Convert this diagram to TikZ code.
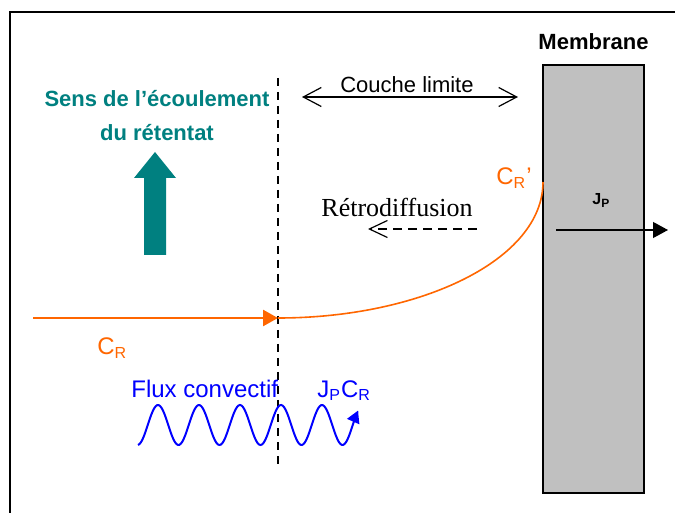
\documentclass[tikz,border=0pt]{standalone}
\usepackage{fontspec}
\setmainfont{Liberation Sans}
\newfontfamily\timesfont{Liberation Serif}
\usepackage{xcolor}
\usetikzlibrary{arrows.meta}
\usetikzlibrary{positioning}
\definecolor{orangeC}{HTML}{FF6600}
\definecolor{tealF}{HTML}{008080}
\definecolor{grisM}{HTML}{C0C0C0}

\begin{document}
\begin{tikzpicture}[x=0.5pt,y=-0.5pt,
    lbl/.style={inner sep=0pt,anchor=base west},
    barbs/.style={line width=0.6pt,{Straight Barb[length=9pt,width=9.5pt]}-{Straight Barb[length=9pt,width=9.5pt]}}]
    \useasboundingbox (0,0) rectangle (675,513);
    % cadre
    \draw[line width=0.7pt] (675,12) -| (10,513);

    % membrane
    \node[draw, fill=grisM, line width=0.8pt, minimum width=50.5pt,
      minimum height=214pt, inner sep=0pt] (membrane) at (593.5,279) {};
    \node[above=7pt of membrane, inner sep=0pt,
      font=\bfseries\fontsize{11}{13}\selectfont] (membranelbl) {Membrane};

    % couche limite
    \coordinate (limA) at (302,97);
    \coordinate (limB) at (518,97);
    \draw[barbs] (limA) -- (limB);
    \node[inner sep=0pt, anchor=base, font=\fontsize{11}{13}\selectfont]
      (couche) at (407,93) {Couche limite};
    \coordinate (bordT) at (278,78);
    \coordinate (bordB) at (278,465);
    \draw[line width=0.6pt, dash pattern=on 4pt off 3pt] (bordT) -- (bordB);

    % sens de l'ecoulement
    \node[inner sep=0pt, anchor=north, align=center, text=tealF,
      font=\bfseries\fontsize{11}{17}\selectfont] (sens) at (157,90)
      {Sens de l’écoulement\\du rétentat};
    \fill[tealF] (144,255) -- (144,178) -- (134,178) -- (155,152)
      -- (176,178) -- (166,178) -- (166,255) -- cycle;

    % retrodiffusion
    \node[inner sep=0pt, anchor=base, font=\timesfont\fontsize{13}{15}\selectfont]
      (retro) at (397,217) {Rétrodiffusion};
    \coordinate (retroA) at (477,229);
    \coordinate (retroB) at (368,229);
    \draw[line width=0.6pt, dash pattern=on 4.5pt off 3pt,
      -{Straight Barb[length=9pt,width=8.5pt]}] (retroA) -- (retroB);

    % flux de permeat
    \node[lbl, font=\bfseries\fontsize{8}{10}\selectfont] (jp) at (592,205)
      {J\textsubscript{P}};
    \coordinate (jpA) at (556,230);
    \coordinate (jpB) at (668,230);
    \draw[line width=0.6pt, -{Triangle[length=7.5pt,width=8pt]}] (jpA) -- (jpB);

    % concentration
    \coordinate (crIn) at (33,318);
    \coordinate (crBord) at (278,318);
    \coordinate (crMur) at (543,182);
    \draw[orangeC, line width=1.3pt, -{Triangle[length=7.5pt,width=8pt]}]
      (crIn) -- (crBord);
    \draw[orangeC, line width=0.8pt]
      (crBord) to[out=0, in=-90, out distance=71pt, in distance=39pt] (crMur);
    \node[lbl, text=orangeC, font=\fontsize{12}{14}\selectfont] (cr) at (97,355)
      {C\textsubscript{R}};
    \node[lbl, text=orangeC, font=\fontsize{12}{14}\selectfont] (crp) at (496,185)
      {C\textsubscript{R}’};

    % flux convectif
    \node[lbl, text=blue, font=\fontsize{12}{14}\selectfont] (flux) at (131,397)
      {Flux convectif};
    \node[lbl, text=blue, font=\fontsize{12}{14}\selectfont] (jpcr) at (317,397)
      {J\textsubscript{P}C\textsubscript{R}};
    \draw[blue, line width=1pt, -{Triangle[length=6pt,width=6.5pt]}]
      plot[domain=138:358, samples=150, smooth] (\x, {425-20*cos(8.7805*(\x-158))});
\end{tikzpicture}
\end{document}
